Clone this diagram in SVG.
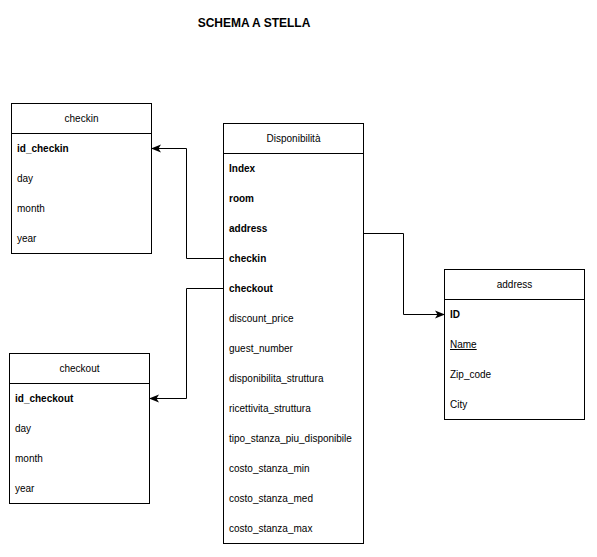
<svg xmlns="http://www.w3.org/2000/svg" width="597" height="557" viewBox="0 0 597 557">
<style>
.box{fill:#fff;stroke:#000;stroke-width:1}
.t{font-family:"Liberation Sans",Arial,sans-serif;font-size:10px;fill:#000}
.h{text-anchor:middle}
.b{font-weight:bold}
.c{fill:none;stroke:#000;stroke-width:1}
</style>
<defs>
<marker id="arr" viewBox="0 0 10 10" refX="9" refY="5" markerWidth="10" markerHeight="10" markerUnits="userSpaceOnUse" orient="auto">
<path d="M0,1 L10,5 L0,9 L2.5,5 Z" fill="#000"/>
</marker>
</defs>
<rect width="597" height="557" fill="#fff"/>
<text x="254" y="26.5" text-anchor="middle" style="font-family:'Liberation Sans',Arial,sans-serif;font-size:12px;font-weight:bold">SCHEMA A STELLA</text>

<g id="connectors">
<path class="c" d="M223.5,258.5 H186.5 V148.5 H152" marker-end="url(#arr)"/>
<path class="c" d="M223.5,288.5 H186.5 V398.5 H150" marker-end="url(#arr)"/>
<path class="c" d="M363.5,233.5 H403.5 V314.5 H444" marker-end="url(#arr)"/>
</g>

<g id="checkin">
<rect class="box" x="11.5" y="103.5" width="140" height="150"/>
<line class="c" x1="11.5" y1="133.5" x2="151.5" y2="133.5"/>
<text class="t h" x="81.5" y="122">checkin</text>
<text class="t b" x="17" y="152">id_checkin</text>
<text class="t" x="17" y="182">day</text>
<text class="t" x="17" y="212">month</text>
<text class="t" x="17" y="242">year</text>
</g>

<g id="checkout">
<rect class="box" x="9.5" y="353.5" width="140" height="150"/>
<line class="c" x1="9.5" y1="383.5" x2="149.5" y2="383.5"/>
<text class="t h" x="79.5" y="372">checkout</text>
<text class="t b" x="15" y="402">id_checkout</text>
<text class="t" x="15" y="432">day</text>
<text class="t" x="15" y="462">month</text>
<text class="t" x="15" y="492">year</text>
</g>

<g id="disponibilita">
<rect class="box" x="223.5" y="123.5" width="140" height="420"/>
<line class="c" x1="223.5" y1="153.5" x2="363.5" y2="153.5"/>
<text class="t h" x="293.5" y="142">Disponibilità</text>
<text class="t b" x="229" y="172">Index</text>
<text class="t b" x="229" y="202">room</text>
<text class="t b" x="229" y="232">address</text>
<text class="t b" x="229" y="262">checkin</text>
<text class="t b" x="229" y="292">checkout</text>
<text class="t" x="229" y="322">discount_price</text>
<text class="t" x="229" y="352">guest_number</text>
<text class="t" x="229" y="382">disponibilita_struttura</text>
<text class="t" x="229" y="412">ricettivita_struttura</text>
<text class="t" x="229" y="442">tipo_stanza_piu_disponibile</text>
<text class="t" x="229" y="472">costo_stanza_min</text>
<text class="t" x="229" y="502">costo_stanza_med</text>
<text class="t" x="229" y="532">costo_stanza_max</text>
</g>

<g id="address">
<rect class="box" x="444.5" y="269.5" width="140" height="150"/>
<line class="c" x1="444.5" y1="299.5" x2="584.5" y2="299.5"/>
<text class="t h" x="514.5" y="288">address</text>
<text class="t b" x="450" y="318">ID</text>
<text class="t" x="450" y="348" text-decoration="underline">Name</text>
<text class="t" x="450" y="378">Zip_code</text>
<text class="t" x="450" y="408">City</text>
</g>
</svg>
